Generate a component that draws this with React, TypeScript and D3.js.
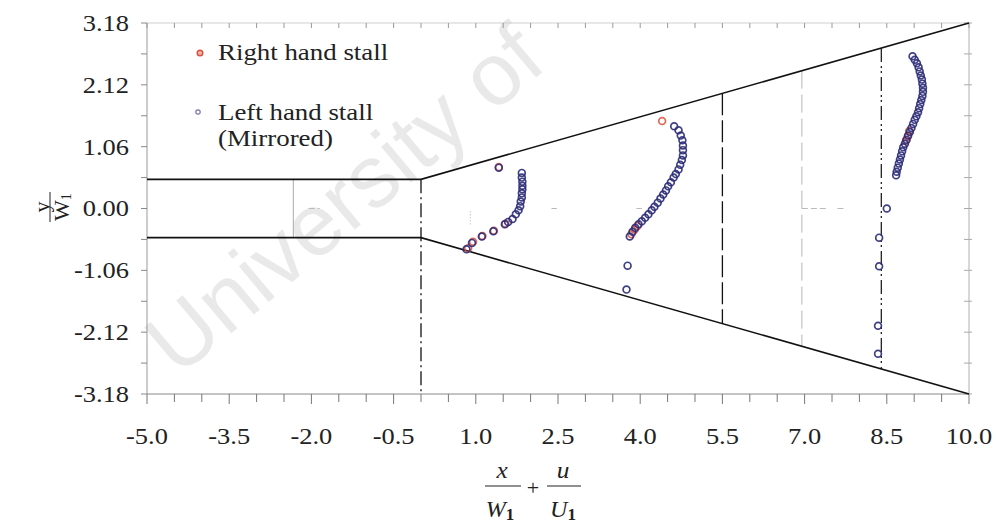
import React from "react";
import * as d3 from "d3";

// Diffuser walls (x/W1 + u/U1, y/W1)
const wallX = [-5, 0, 10];
const wallUpper = [0.5, 0.5, 3.18];
const wallLower = [-0.5, -0.5, -3.18];

// Tick values
const xMajor = [-5.0, -3.5, -2.0, -0.5, 1.0, 2.5, 4.0, 5.5, 7.0, 8.5, 10.0];
const yMajor = [-3.18, -2.12, -1.06, 0.0, 1.06, 2.12, 3.18];

// Right hand stall
const rightX = [0.86, 0.95, 1.12, 1.33, 1.54, 1.42, 4.40, 3.84, 3.90, 3.95, 8.91, 8.88, 8.85];
const rightY = [-0.68, -0.57, -0.47, -0.38, -0.26, 0.71, 1.50, -0.44, -0.36, -0.30, 1.33, 1.23, 1.16];

// Left hand stall (mirrored)
const leftX = [
  1.42, 1.84, 1.84, 1.85, 1.85, 1.85, 1.84, 1.84, 1.82, 1.81, 1.78, 1.73, 1.67, 1.59, 1.53, 1.32, 1.11, 0.93, 0.83,
  4.62, 4.70, 4.74, 4.77, 4.78, 4.78, 4.78, 4.76, 4.73, 4.70, 4.65, 4.61, 4.56, 4.51, 4.47, 4.42, 4.37, 4.32, 4.26,
  4.21, 4.15, 4.09, 4.03, 3.97, 3.91, 3.86, 3.81, 3.77, 3.75,
  8.97, 9.01, 9.05, 9.08, 9.10, 9.12, 9.14, 9.15, 9.16, 9.16, 9.15, 9.13, 9.11, 9.09, 9.07, 9.04, 9.01, 8.98, 8.95,
  8.92, 8.89, 8.86, 8.83, 8.80, 8.78, 8.76, 8.74, 8.72, 8.70, 8.68, 8.67,
  8.50, 8.36, 8.36, 8.34, 8.34,
];
const leftY = [
  0.70, 0.61, 0.53, 0.46, 0.39, 0.33, 0.26, 0.19, 0.12, 0.04, -0.03, -0.10, -0.18, -0.23, -0.27, -0.39, -0.48, -0.59, -0.70,
  1.41, 1.34, 1.25, 1.17, 1.08, 1.00, 0.91, 0.83, 0.75, 0.67, 0.59, 0.53, 0.45, 0.38, 0.31, 0.24, 0.17, 0.10, 0.03,
  -0.03, -0.10, -0.16, -0.22, -0.27, -0.33, -0.40, -0.48, -0.98, -1.39,
  2.61, 2.55, 2.49, 2.42, 2.35, 2.28, 2.21, 2.14, 2.07, 2.00, 1.93, 1.86, 1.79, 1.72, 1.65, 1.58, 1.52, 1.45, 1.38,
  1.31, 1.25, 1.18, 1.11, 1.05, 0.98, 0.91, 0.84, 0.77, 0.70, 0.63, 0.57,
  0.00, -0.50, -0.99, -2.01, -2.49,
];

// Station lines: position and style
const stationX = [0.0, -2.33, 5.5, 6.95, 8.4];
const stationKind = ["dashdot", "thin", "dash", "lightdash", "dashdotdot"];
const centerMarks = [[-2.05, -1.85], [2.38, 2.48], [3.93, 4.03], [6.95, 7.4], [7.6, 7.72]];

const W = 996;
const H = 524;
const SERIF = "'Times New Roman', 'Liberation Serif', Times, serif";

function T({ x, y, anchor = "middle", size = 22, sx = 1.15, italic = false, fill = "#222", children }: any) {
  return (
    <text
      transform={`translate(${x},${y}) scale(${sx},1)`}
      textAnchor={anchor}
      dominantBaseline="central"
      fontFamily={SERIF}
      fontSize={size}
      fontStyle={italic ? "italic" : "normal"}
      fill={fill}
    >
      {children}
    </text>
  );
}

export default function App() {
  const x = d3.scaleLinear().domain([-5, 10]).range([147, 969]);
  const y = d3.scaleLinear().domain([-3.18, 3.18]).range([394, 23]);
  const upperAt = d3.scaleLinear().domain(wallX).range(wallUpper);
  const lowerAt = d3.scaleLinear().domain(wallX).range(wallLower);

  const line = d3.line<number>().x((d, i) => x(wallX[i])).y((d) => y(d));

  const xMinor = d3.range(-5, 10.001, 0.5);
  const yMinor = d3.range(-3.18, 3.181, 0.53);

  const styles: Record<string, any> = {
    dashdot: { stroke: "#111", dash: "14,4,2,4", w: 1.3 },
    thin: { stroke: "#aaa", dash: "none", w: 1 },
    dash: { stroke: "#111", dash: "22,5", w: 1.3 },
    lightdash: { stroke: "#b5b5b5", dash: "18,6", w: 1 },
    dashdotdot: { stroke: "#222", dash: "14,4,2,3,2,4", w: 1.3 },
  };

  return (
    <svg width={W} height={H} style={{ position: "absolute", left: 0, top: 0, background: "#fff" }}>
      {/* watermark */}
      <text
        transform="translate(178,378) rotate(-40)"
        fontFamily="'Liberation Sans', Arial, sans-serif"
        fontSize={88}
        fill="#e9e9e9"
      >
        University of
      </text>

      {/* frame */}
      <line x1={x(-5)} x2={x(10)} y1={y(3.18)} y2={y(3.18)} stroke="#cfcfcf" strokeWidth={1} />
      <line x1={x(10)} x2={x(10)} y1={y(3.18)} y2={y(-3.18)} stroke="#b0b0b0" strokeWidth={1} />
      <line x1={x(-5)} x2={x(-5)} y1={y(3.18)} y2={y(-3.18)} stroke="#999" strokeWidth={1} />
      <line x1={x(-5)} x2={x(10)} y1={y(-3.18)} y2={y(-3.18)} stroke="#888" strokeWidth={1} />

      {/* x ticks */}
      {xMinor.map((v) => {
        const major = xMajor.some((m) => Math.abs(m - v) < 1e-6);
        return (
          <g key={"xt" + v}>
            <line x1={x(v)} x2={x(v)} y1={y(-3.18)} y2={y(-3.18) + (major ? 10 : 8)} stroke="#777" strokeWidth={1} />
            <line x1={x(v)} x2={x(v)} y1={y(3.18)} y2={y(3.18) + 5} stroke="#999" strokeWidth={1} />
          </g>
        );
      })}
      {/* y ticks */}
      {yMinor.map((v) => (
        <g key={"yt" + v}>
          <line x1={x(-5) - 6} x2={x(-5)} y1={y(v)} y2={y(v)} stroke="#888" strokeWidth={1} />
          <line x1={x(10) - 5} x2={x(10) + 3} y1={y(v)} y2={y(v)} stroke="#aaa" strokeWidth={1} />
        </g>
      ))}

      {/* tick labels */}
      {xMajor.map((v) => (
        <T key={"xl" + v} x={x(v)} y={436} size={23} sx={1.15}>
          {v.toFixed(1)}
        </T>
      ))}
      {yMajor.map((v) => (
        <T key={"yl" + v} x={129} y={y(v)} anchor="end" size={23} sx={1.15}>
          {v.toFixed(2)}
        </T>
      ))}

      {/* center line fragments */}
      {centerMarks.map((m, i) => (
        <line key={"cm" + i} x1={x(m[0])} x2={x(m[1])} y1={y(0)} y2={y(0)} stroke="#bbb" strokeWidth={1} strokeDasharray="6,3" />
      ))}
      <line x1={x(0.9)} x2={x(0.9)} y1={y(-0.05)} y2={y(-0.28)} stroke="#aaa" strokeWidth={1} strokeDasharray="1,2" />

      {/* station lines */}
      {stationX.map((sxv, i) => {
        const st = styles[stationKind[i]];
        const top = upperAt(sxv);
        const bottom = sxv === 0 ? -3.18 : lowerAt(sxv);
        return (
          <line
            key={"st" + i}
            x1={x(sxv)}
            x2={x(sxv)}
            y1={y(top)}
            y2={y(bottom)}
            stroke={st.stroke}
            strokeWidth={st.w}
            strokeDasharray={st.dash}
          />
        );
      })}

      {/* walls */}
      <path d={line(wallUpper) || ""} fill="none" stroke="#111" strokeWidth={1.6} />
      <path d={line(wallLower) || ""} fill="none" stroke="#111" strokeWidth={1.6} />

      {/* data */}
      {rightX.map((v, i) => (
        <circle key={"r" + i} cx={x(v)} cy={y(rightY[i])} r={3.4} fill="none" stroke="#d9503c" strokeWidth={1.7} strokeOpacity={0.85} />
      ))}
      {leftX.map((v, i) => (
        <circle key={"l" + i} cx={x(v)} cy={y(leftY[i])} r={3.4} fill="none" stroke="#2b2b78" strokeWidth={1.7} strokeOpacity={0.9} />
      ))}

      {/* legend */}
      <circle cx={200} cy={53} r={2.8} fill="#f3b0a8" stroke="#d9503c" strokeWidth={1.4} />
      <T x={218} y={52} anchor="start" size={24} sx={1.12}>Right hand stall</T>
      <circle cx={198} cy={112} r={2.2} fill="none" stroke="#7777aa" strokeWidth={1.2} />
      <T x={218} y={112} anchor="start" size={24} sx={1.12}>Left hand stall</T>
      <T x={218} y={138} anchor="start" size={24} sx={1.12}>(Mirrored)</T>

      {/* y title */}
      <g transform="translate(50,207) rotate(-90)">
        <T x={0} y={-9} size={22} sx={1}>y</T>
        <line x1={-15} x2={15} y1={0} y2={0} stroke="#222" strokeWidth={1} />
        <text transform="translate(0,11)" textAnchor="middle" dominantBaseline="central" fontFamily={SERIF} fontSize={22} fill="#222">
          W<tspan fontSize={14} dy={5}>1</tspan>
        </text>
      </g>

      {/* x title */}
      <T x={502} y={470} size={23} sx={1.1} italic>x</T>
      <line x1={485} x2={521} y1={486} y2={486} stroke="#222" strokeWidth={1} />
      <text transform="translate(500,509)" textAnchor="middle" dominantBaseline="central" fontFamily={SERIF} fontSize={24} fontStyle="italic" fill="#222">
        W<tspan fontSize={17} fontStyle="normal" fontWeight="bold" dy={5}>1</tspan>
      </text>
      <T x={533} y={487} size={22} sx={1}>+</T>
      <T x={563} y={470} size={23} sx={1.1} italic>u</T>
      <line x1={547} x2={581} y1={486} y2={486} stroke="#222" strokeWidth={1} />
      <text transform="translate(563,509)" textAnchor="middle" dominantBaseline="central" fontFamily={SERIF} fontSize={24} fontStyle="italic" fill="#222">
        U<tspan fontSize={17} fontStyle="normal" fontWeight="bold" dy={5}>1</tspan>
      </text>
    </svg>
  );
}
